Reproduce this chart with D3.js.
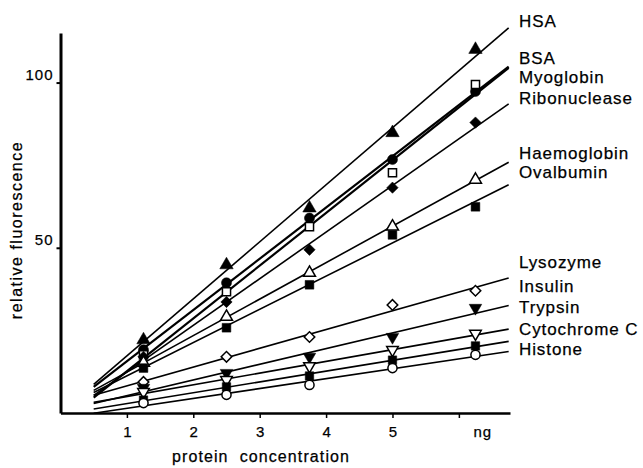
<!DOCTYPE html>
<html>
<head>
<meta charset="utf-8">
<script src="https://cdn.jsdelivr.net/npm/d3@7"></script>
<style>
  body { margin: 0; background: #fff; }
  svg { display: block; font-family: "Liberation Sans", Arial, sans-serif; }
  text { fill: #000; stroke: #000; stroke-width: 0.25px; }
</style>
</head>
<body>
<svg id="chart" width="643" height="468"></svg>
<script>
// protein amount (ng) at which each series was measured
const amounts = [1.25, 2.5, 3.75, 5, 6.25]

const proteins = ["HSA", "BSA", "Myoglobin", "Ribonuclease", "Haemoglobin", "Ovalbumin",
                  "Lysozyme", "Insulin", "Trypsin", "Cytochrome C", "Histone"]

// relative fluorescence
const hsa          = [22.1, 44.8, 62.0, 84.8, 110.0]
const bsa          = [19.1, 39.4, 59.0, 76.7, 97.3]
const myoglobin    = [17.6, 36.7, 56.4, 72.7, 99.4]
const ribonuclease = [17.0, 33.6, 49.4, 68.2, 87.9]
const haemoglobin  = [15.2, 29.1, 42.4, 56.4, 70.6]
const ovalbumin    = [13.6, 25.8, 38.8, 53.9, 62.4]
const lysozyme     = [9.4, 17.0, 23.0, 32.7, 37.0]
const insulin      = [7.6, 12.1, 17.0, 23.0, 31.8]
const trypsin      = [6.4, 10.0, 14.2, 19.1, 24.0]
const cytochromeC  = [3.9, 7.9, 11.2, 16.0, 20.3]
const histone      = [3.0, 5.5, 8.5, 13.6, 17.6]

const yTicks = [50, 100]
const xTicks = [1, 2, 3, 4, 5, 6]

const series = [hsa, bsa, myoglobin, ribonuclease, haemoglobin, ovalbumin,
                lysozyme, insulin, trypsin, cytochromeC, histone]

// how each series is drawn
const markers = [
  { shape: d3.symbolTriangle, filled: true,  turn: 0,   size: 78, lw: 1.6 },
  { shape: d3.symbolCircle,   filled: true,  turn: 0,   size: 80, lw: 2.2 },
  { shape: d3.symbolSquare,   filled: false, turn: 0,   size: 66, lw: 2.2 },
  { shape: d3.symbolSquare,   filled: true,  turn: 45,  size: 64, lw: 1.6 },
  { shape: d3.symbolTriangle, filled: false, turn: 0,   size: 62, lw: 1.6 },
  { shape: d3.symbolSquare,   filled: true,  turn: 0,   size: 76, lw: 1.6 },
  { shape: d3.symbolSquare,   filled: false, turn: 45,  size: 56, lw: 1.6 },
  { shape: d3.symbolTriangle, filled: true,  turn: 180, size: 68, lw: 1.6 },
  { shape: d3.symbolTriangle, filled: false, turn: 180, size: 58, lw: 1.6 },
  { shape: d3.symbolSquare,   filled: true,  turn: 0,   size: 72, lw: 1.6 },
  { shape: d3.symbolCircle,   filled: false, turn: 0,   size: 66, lw: 1.6 }
]

// vertical level (in fluorescence units) of each name on the right
const labelLevels = [118.8, 107.6, 101.8, 95.5, 78.8, 73.0, 45.8, 38.5, 32.1, 25.5, 19.4]

const svg = d3.select("#chart")

const x = d3.scaleLinear().domain([0, 6.77]).range([60.5, 510])
const y = d3.scaleLinear().domain([0, 115]).range([413, 33])

const fit_start = 0.5, fit_end = 6.75

function fit(vals) {
  const mx = d3.mean(amounts), my = d3.mean(vals)
  const sxy = d3.sum(amounts, (a, i) => (a - mx) * (vals[i] - my))
  const sxx = d3.sum(amounts, a => (a - mx) ** 2)
  const b = sxy / sxx
  return t => my + b * (t - mx)
}

// fitted lines
const line = d3.line().x(d => x(d[0])).y(d => y(d[1]))
series.forEach((vals, i) => {
  const f = fit(vals)
  svg.append("path")
    .datum([[fit_start, f(fit_start)], [fit_end, f(fit_end)]])
    .attr("fill", "none")
    .attr("stroke", "#000")
    .attr("stroke-width", markers[i].lw)
    .attr("d", line)
})

// data points
series.forEach((vals, i) => {
  const m = markers[i]
  svg.append("g").selectAll("path")
    .data(vals)
    .join("path")
    .attr("transform", (v, j) => `translate(${x(amounts[j])},${y(v)}) rotate(${m.turn})`)
    .attr("d", d3.symbol().type(m.shape).size(m.size))
    .attr("fill", m.filled ? "#000" : "#fff")
    .attr("stroke", "#000")
    .attr("stroke-width", m.filled ? 0.5 : 1.5)
})

// axes
const yAxis = svg.append("g")
  .attr("transform", `translate(${x(0)},0)`)
  .call(d3.axisLeft(y).tickValues(yTicks).tickSize(4).tickSizeOuter(0).tickPadding(3))
yAxis.select(".domain").attr("stroke-width", 3)
yAxis.selectAll(".tick line").attr("stroke-width", 2)
yAxis.selectAll(".tick text")
  .attr("dy", "-0.2em")
  .attr("font-size", 15)
  .attr("letter-spacing", 1)
  .attr("font-family", "Liberation Sans, Arial, sans-serif")

const xAxis = svg.append("g")
  .attr("transform", `translate(0,${y(0)})`)
  .call(d3.axisBottom(x).tickValues(xTicks).tickSize(5).tickSizeOuter(0).tickPadding(8)
    .tickFormat(d => d === 6 ? "" : d))
xAxis.select(".domain").attr("stroke-width", 2.5)
xAxis.selectAll(".tick line").attr("stroke-width", 1.5)
xAxis.selectAll(".tick text")
  .attr("font-size", 15)
  .attr("font-family", "Liberation Sans, Arial, sans-serif")

svg.append("text")
  .attr("x", x(6.36))
  .attr("y", y(0) + 24)
  .attr("text-anchor", "middle")
  .attr("font-size", 15)
  .attr("letter-spacing", 1)
  .text("ng")

// axis titles
svg.append("text")
  .attr("x", 261)
  .attr("y", 462)
  .attr("text-anchor", "middle")
  .attr("font-size", 16)
  .attr("letter-spacing", 1.1)
  .style("white-space", "pre")
  .text("protein  concentration")

svg.append("text")
  .attr("transform", "translate(22,230) rotate(-90)")
  .attr("text-anchor", "middle")
  .attr("font-size", 16)
  .attr("letter-spacing", 1.5)
  .text("relative fluorescence")

// protein names
svg.append("g").selectAll("text")
  .data(proteins)
  .join("text")
  .attr("x", 519)
  .attr("y", (d, i) => y(labelLevels[i]))
  .attr("dy", "0.36em")
  .attr("font-size", 17)
  .attr("letter-spacing", 0.9)
  .text(d => d)
</script>
</body>
</html>
